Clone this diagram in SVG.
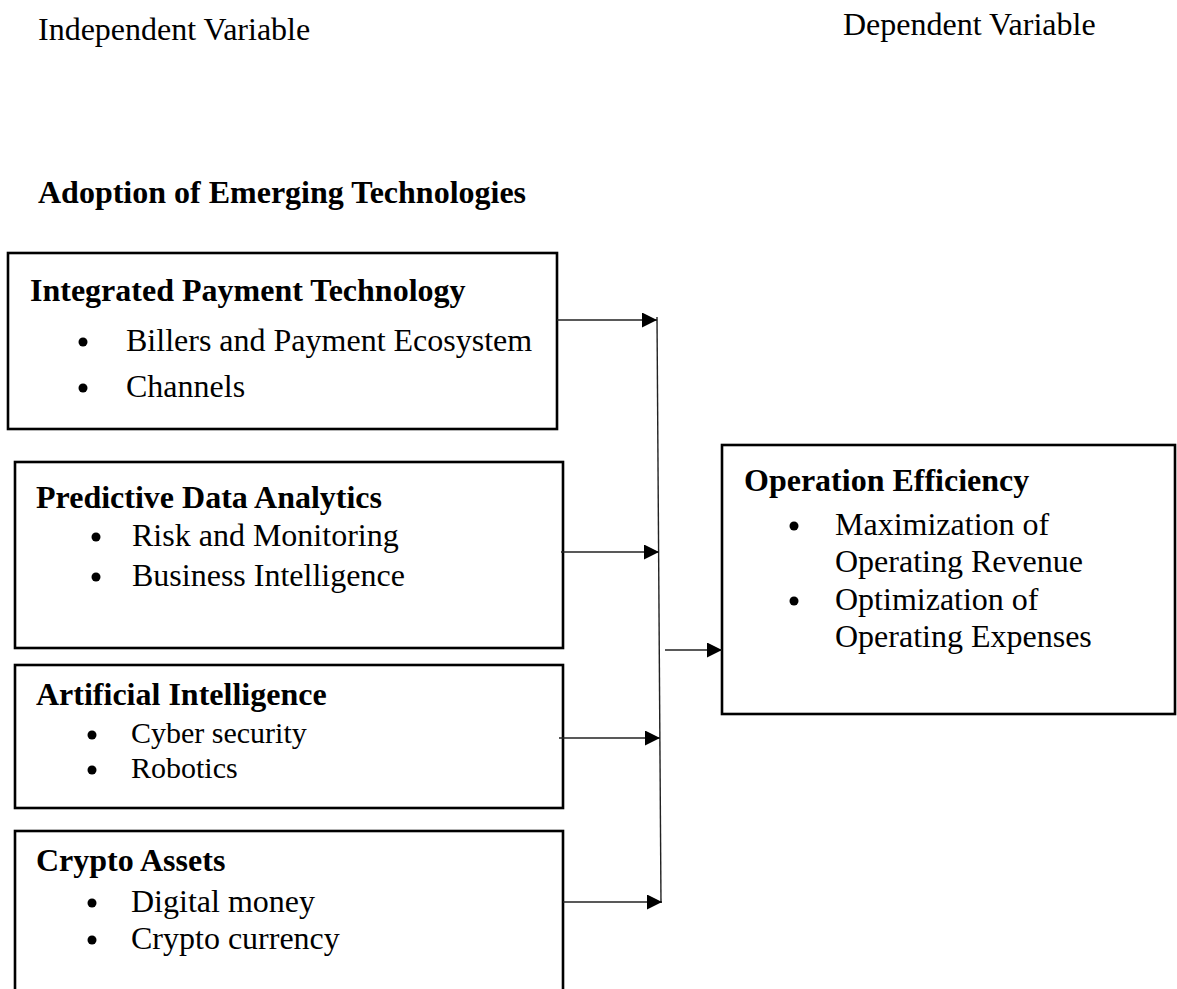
<svg xmlns="http://www.w3.org/2000/svg" width="1177" height="989" viewBox="0 0 1177 989">
<style>
text{font-family:"Liberation Serif","Times New Roman",serif;fill:#000}
.h{font-weight:bold;font-size:32px}
.b{font-size:32px}
.s{font-size:30px}
.box{fill:none;stroke:#000;stroke-width:2.6}
.ln{stroke:#222;stroke-width:1.4;fill:none}
.dot{fill:#000}
</style>
<defs>
<marker id="ah" markerUnits="userSpaceOnUse" markerWidth="16" markerHeight="16" refX="15" refY="7.5" orient="auto">
<path d="M0,0 L15,7.5 L0,15 Z" fill="#000"/>
</marker>
</defs>
<rect width="1177" height="989" fill="#fff"/>
<text class="b" x="38" y="40">Independent Variable</text>
<text class="b" x="843" y="35">Dependent Variable</text>
<text class="h" x="38" y="203">Adoption of Emerging Technologies</text>

<g id="ipt">
<rect class="box" x="8" y="253" width="549" height="176"/>
<text class="h" x="30" y="301">Integrated Payment Technology</text>
<circle class="dot" cx="83" cy="342" r="4.5"/>
<text class="b" x="126" y="351">Billers and Payment Ecosystem</text>
<circle class="dot" cx="83" cy="388" r="4.5"/>
<text class="b" x="126" y="397">Channels</text>
</g>

<g id="pda">
<rect class="box" x="15" y="462" width="548" height="186"/>
<text class="h" x="36" y="508">Predictive Data Analytics</text>
<circle class="dot" cx="96" cy="537" r="4.5"/>
<text class="b" x="132" y="546">Risk and Monitoring</text>
<circle class="dot" cx="96" cy="577" r="4.5"/>
<text class="b" x="132" y="586">Business Intelligence</text>
</g>

<g id="ai">
<rect class="box" x="15" y="665" width="548" height="143"/>
<text class="h" x="36" y="705">Artificial Intelligence</text>
<circle class="dot" cx="92" cy="735" r="4.5"/>
<text class="s" x="131" y="743">Cyber security</text>
<circle class="dot" cx="92" cy="770" r="4.5"/>
<text class="s" x="131" y="778">Robotics</text>
</g>

<g id="ca">
<rect class="box" x="15" y="831" width="548" height="200"/>
<text class="h" x="36" y="871">Crypto Assets</text>
<circle class="dot" cx="92" cy="903" r="4.5"/>
<text class="b" x="131" y="912">Digital money</text>
<circle class="dot" cx="92" cy="940" r="4.5"/>
<text class="b" x="131" y="949">Crypto currency</text>
</g>

<g id="oe">
<rect class="box" x="722" y="445" width="453" height="269"/>
<text class="h" x="744" y="491">Operation Efficiency</text>
<circle class="dot" cx="794" cy="526" r="4.5"/>
<text class="b" x="835" y="535">Maximization of</text>
<text class="b" x="835" y="572">Operating Revenue</text>
<circle class="dot" cx="794" cy="601" r="4.5"/>
<text class="b" x="835" y="610">Optimization of</text>
<text class="b" x="835" y="647">Operating Expenses</text>
</g>

<g id="connectors">
<line class="ln" x1="657" y1="317" x2="661" y2="903"/>
<line class="ln" x1="557" y1="320" x2="657" y2="320" marker-end="url(#ah)"/>
<line class="ln" x1="561" y1="552" x2="659" y2="552" marker-end="url(#ah)"/>
<line class="ln" x1="559" y1="738" x2="660" y2="738" marker-end="url(#ah)"/>
<line class="ln" x1="563" y1="902" x2="662" y2="902" marker-end="url(#ah)"/>
<line class="ln" x1="665" y1="650" x2="722" y2="650" marker-end="url(#ah)"/>
</g>
</svg>
